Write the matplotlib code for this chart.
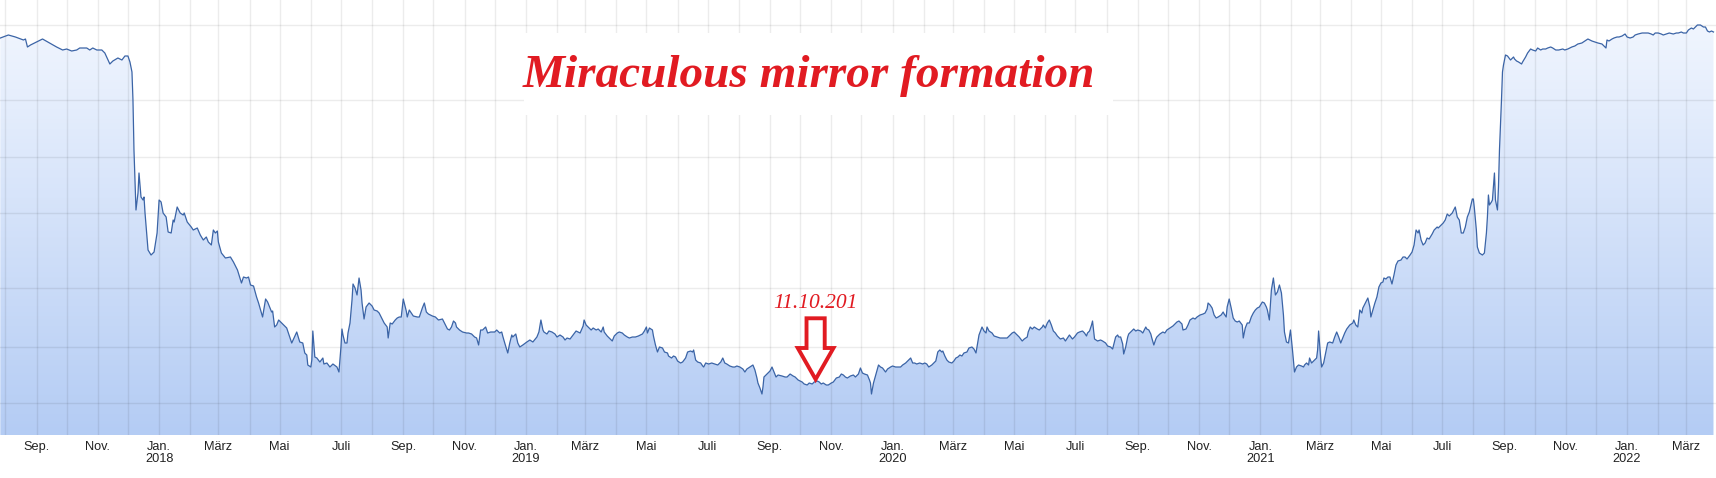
import numpy as np
import pandas as pd
import matplotlib
matplotlib.use("Agg")
import matplotlib.pyplot as plt
import matplotlib.dates as mdates
from matplotlib.colors import LinearSegmentedColormap
from matplotlib.patches import Polygon, Rectangle
from matplotlib.ticker import FuncFormatter

# Price history (days counted from 27.07.2017)
start_date = pd.Timestamp("2017-07-27")
days = [
    0, 8, 15, 23, 25, 27, 30, 34, 42, 49, 56, 62, 66, 71, 76, 79, 86, 89, 92, 96,
    101, 104, 109, 112, 117, 121, 124, 127, 129, 131, 132, 133, 135, 137, 138, 140, 142, 143, 144, 147,
    150, 153, 156, 158, 160, 162, 165, 167, 170, 172, 173, 176, 179, 182, 183, 186, 190, 192, 196, 199,
    202, 205, 207, 210, 212, 214, 216, 217, 220, 224, 229, 232, 236, 240, 242, 245, 247, 249, 252, 255,
    257, 261, 264, 266, 270, 271, 273, 275, 277, 281, 285, 288,
    290, 295, 298, 301, 303, 305, 306, 309, 310, 311, 313, 315, 318, 321, 322, 325, 328, 331, 335, 337,
    339, 340, 341, 343, 345, 346, 348, 350, 351, 353, 355, 357, 359, 360, 362, 364, 367, 370, 372, 375,
    377, 380, 382, 385, 386, 388, 390, 393, 395, 397, 399, 401, 402, 404, 405, 407, 409, 411, 415, 417,
    420, 422, 424, 426, 430, 433, 436, 440, 442, 445, 447, 449, 451, 453, 454, 457, 460, 464, 466, 469,
    472, 474, 476, 478, 480, 483, 485, 488, 492, 494, 497, 499, 500, 502, 505, 507, 509, 510, 513, 515,
    517, 520, 524, 527, 530, 534, 536, 538, 540, 541, 544, 546, 549, 552, 554, 557, 560, 562, 564, 567,
    570, 573, 575, 577,
    580, 581, 583, 585, 588, 590, 593, 595, 598, 600, 601, 604, 606, 609, 611, 614, 616, 619, 621, 624,
    626, 629, 632, 635, 639, 641, 643, 644, 646, 649, 650, 652, 654, 656, 659, 661, 664, 665, 668, 670,
    672, 674, 677, 679, 682, 684, 687, 689, 690, 692, 694, 697, 699, 700, 702, 705, 708, 711, 714, 717,
    719, 721, 723, 726, 729, 731, 733, 736, 739, 741, 743, 746, 749, 751, 753, 754, 756, 758, 759, 760,
    763, 766, 768, 770, 772, 774, 778, 781, 783, 786, 789, 791, 794, 798, 800, 803, 805, 808, 810, 813,
    815, 817, 819, 822, 824, 827, 829, 832, 835, 837, 839, 841, 843, 846, 849, 851, 854, 856, 858, 860,
    863, 865, 866,
    867, 869, 872, 874, 876, 878, 881, 883, 886, 888, 891, 893, 896, 898, 901, 903, 906, 908, 910, 912,
    915, 918, 920, 922, 924, 927, 929, 931, 933, 935, 937, 938, 940, 942, 944, 947, 949, 951, 953, 955,
    957, 959, 962, 964, 967, 969, 971, 972, 974, 977, 979, 981, 982, 984, 987, 989, 992, 995, 998, 1002,
    1004, 1007, 1009, 1012, 1014, 1017, 1019, 1022, 1023, 1025, 1027, 1029, 1032, 1034, 1037, 1038, 1040, 1042, 1044, 1046,
    1048, 1050, 1052, 1055, 1058, 1060, 1062, 1064, 1067, 1069, 1072, 1074, 1077, 1079, 1081, 1082, 1084, 1086, 1087, 1088,
    1089, 1092, 1095, 1097, 1100, 1102, 1105, 1107, 1108, 1110, 1112, 1113, 1115, 1117, 1118, 1120, 1122, 1123, 1126, 1128,
    1130, 1132, 1135, 1137, 1140, 1141, 1143, 1145, 1146, 1148, 1150, 1151, 1154,
    1157, 1159, 1161, 1164, 1167, 1169, 1171, 1173, 1176, 1177, 1180, 1182, 1184, 1187, 1189, 1191, 1194, 1197, 1199, 1201,
    1202, 1204, 1206, 1208, 1210, 1212, 1215, 1217, 1218, 1220, 1221, 1223, 1225, 1227, 1229, 1231, 1233, 1236, 1237, 1239,
    1241, 1243, 1245, 1247, 1249, 1251, 1253, 1256, 1258, 1260, 1261, 1263, 1265, 1267, 1269, 1271, 1273, 1275, 1277, 1278,
    1280, 1282, 1284, 1286, 1288, 1290, 1292, 1295, 1297, 1298, 1300, 1302, 1303, 1305, 1307, 1310, 1311, 1312, 1314, 1315,
    1317, 1319, 1321, 1323, 1326, 1328, 1330, 1332, 1334, 1336, 1338, 1340, 1343, 1346, 1347, 1349, 1351, 1353, 1355, 1356,
    1359, 1361, 1363, 1364, 1366, 1368, 1370, 1372, 1374, 1376, 1377, 1379, 1381, 1383, 1385, 1387, 1389, 1391, 1394, 1396,
    1398, 1400, 1403, 1405, 1407, 1409, 1411, 1412, 1414, 1416, 1418, 1420, 1422, 1425, 1427, 1430, 1431, 1433, 1436, 1438,
    1440, 1442, 1445, 1446, 1448, 1450, 1452, 1454, 1456, 1458, 1460, 1462, 1465, 1466, 1467, 1469, 1470, 1472, 1475, 1477,
    1479, 1480, 1481, 1482, 1484, 1485, 1487, 1488, 1490, 1491, 1492, 1494, 1495, 1496, 1498, 1500, 1503, 1506, 1507, 1509,
    1511, 1514, 1515, 1518, 1520, 1523, 1525, 1528, 1530, 1533, 1535, 1538, 1540, 1543, 1545, 1548, 1551, 1555, 1557, 1560,
    1564, 1567, 1570, 1574, 1577, 1580, 1584, 1587, 1590, 1594, 1596, 1598, 1599, 1601, 1604, 1606, 1609, 1611, 1614, 1617,
    1619, 1622, 1625, 1627, 1630, 1634, 1637, 1640, 1643, 1645, 1647, 1650, 1653, 1655, 1658, 1661, 1665, 1668, 1670, 1673,
    1675, 1678, 1680, 1683, 1685, 1687, 1689, 1692, 1695, 1697, 1699, 1701, 1703, 1705,
]
price = [
    397, 400, 398, 395, 396, 388, 390, 392, 396, 392, 388, 385, 386, 384, 385, 387, 387, 385, 387, 385,
    385, 382, 371, 374, 377, 375, 379, 379, 373, 363, 335, 285, 225, 242, 262, 238, 235, 238, 222, 185,
    180, 183, 202, 235, 233, 222, 218, 203, 202, 215, 213, 228, 222, 220, 222, 213, 208, 205, 207, 200,
    195, 198, 193, 190, 205, 202, 204, 193, 182, 177, 178, 173, 165, 152, 158, 157, 158, 150, 149, 138,
    132, 118, 136, 133, 123, 124, 108, 110, 115, 111, 107, 98,
    92, 103, 93, 92, 82, 80, 70, 68, 75, 104, 78, 77, 73, 77, 71, 72, 68, 71, 68, 63,
    88, 106, 100, 92, 92, 102, 112, 135, 151, 147, 140, 157, 145, 132, 116, 128, 132, 129, 125, 124,
    122, 116, 112, 108, 97, 112, 111, 115, 117, 118, 118, 136, 132, 124, 118, 125, 122, 119, 118, 118,
    127, 132, 123, 121, 119, 118, 115, 116, 112, 106, 105, 108, 114, 112, 108, 105, 103, 102, 102, 101,
    98, 97, 90, 105, 105, 108, 102, 103, 103, 105, 102, 103, 99, 92, 82, 92, 100, 98, 101, 92,
    88, 90, 93, 95, 93, 98, 103, 115, 105, 103, 101, 104, 103, 101, 98, 100, 98, 95, 97, 96,
    100, 104, 103, 102,
    109, 115, 110, 108, 105, 107, 105, 106, 103, 108, 103, 99, 97, 94, 99, 102, 103, 102, 100, 98,
    97, 98, 98, 99, 101, 104, 108, 102, 107, 105, 99, 90, 83, 88, 87, 83, 82, 79, 77, 79,
    78, 74, 72, 73, 77, 83, 84, 83, 85, 75, 73, 72, 69, 68, 72, 71, 72, 71, 70, 73,
    77, 72, 71, 69, 68, 68, 69, 68, 66, 63, 66, 68, 70, 65, 57, 52, 47, 41, 48, 58,
    61, 64, 68, 63, 58, 60, 59, 58, 58, 61, 59, 58, 55, 53, 51, 50, 52, 51, 53, 54,
    53, 51, 52, 50, 50, 52, 53, 57, 58, 61, 60, 58, 57, 59, 60, 58, 61, 67, 62, 61,
    60, 55, 52,
    41, 52, 63, 70, 68, 67, 63, 66, 68, 69, 68, 68, 68, 70, 72, 74, 77, 72, 72, 71,
    72, 71, 72, 71, 68, 70, 72, 74, 83, 85, 83, 84, 79, 75, 73, 72, 74, 77, 78, 80,
    79, 82, 83, 87, 88, 86, 82, 88, 100, 108, 104, 102, 108, 104, 102, 99, 98, 97, 97, 97,
    99, 102, 103, 100, 98, 94, 96, 98, 103, 108, 106, 108, 106, 105, 108, 110, 107, 112, 115, 110,
    104, 102, 99, 96, 97, 94, 97, 100, 96, 98, 102, 103, 104, 102, 99, 102, 104, 110, 114, 105,
    96, 94, 95, 94, 92, 89, 88, 86, 90, 98, 100, 98, 98, 91, 81, 88, 98, 101, 104, 106,
    104, 105, 104, 102, 108, 106, 105, 101, 97, 90, 96, 98, 101,
    103, 102, 105, 107, 109, 111, 113, 114, 111, 105, 106, 110, 115, 117, 116, 118, 120, 121, 122, 126,
    132, 130, 127, 120, 117, 118, 120, 123, 121, 118, 128, 136, 127, 117, 114, 113, 114, 110, 97, 107,
    112, 112, 118, 122, 125, 127, 128, 133, 132, 128, 125, 115, 145, 157, 140, 143, 150, 142, 120, 103,
    93, 92, 105, 85, 63, 68, 70, 69, 68, 70, 72, 70, 77, 72, 74, 77, 85, 104, 78, 68,
    72, 82, 92, 93, 92, 98, 103, 98, 92, 97, 102, 106, 110, 112, 115, 110, 108, 125, 122, 127,
    133, 137, 128, 118, 125, 132, 138, 148, 152, 153, 157, 156, 158, 158, 151, 160, 170, 174, 175, 178,
    178, 176, 180, 183, 190, 205, 202, 205, 195, 190, 192, 197, 196, 201, 205, 208, 207, 209, 212, 215,
    221, 219, 222, 224, 228, 218, 215, 202, 202, 208, 218, 223, 236, 236, 227, 205, 188, 182, 180, 182,
    202, 218, 240, 230, 233, 235, 262, 235, 225, 248, 285, 335, 363, 370, 380, 379, 375, 378, 376, 374,
    373, 371, 373, 378, 382, 386, 385, 384, 387, 385, 386, 386, 387, 388, 387, 385, 385, 386, 385, 386,
    388, 389, 391, 392, 394, 396, 394, 393, 392, 391, 389, 387, 395, 394, 396, 397, 398, 398, 399, 401,
    398, 397, 398, 400, 401, 402, 402, 402, 401, 400, 402, 402, 401, 400, 401, 402, 401, 402, 402, 403,
    402, 402, 405, 407, 406, 408, 410, 410, 408, 408, 404, 403, 404, 403,
]
assert len(days) == len(price)
dates = start_date + pd.to_timedelta(days, unit="D")

# Axis range and levels
x_start = pd.Timestamp("2017-07-26 16:00")
x_end = pd.Timestamp("2022-03-30 12:00")
y_top = 435
grid_levels = [32, 88, 147, 222, 278, 335, 410]
month_names = {1: "Jan.", 3: "März", 5: "Mai", 7: "Juli", 9: "Sep.", 11: "Nov."}

title = "Miraculous mirror formation"
marker_label = "11.10.201"

red = "#e11b22"
line_blue = "#3b64a6"

fig = plt.figure(figsize=(17.16, 4.78), dpi=100)
ax = fig.add_axes([0, 43 / 478, 1, 435 / 478])

ax.plot(dates, price, color=line_blue, lw=0.9, zorder=3)

# gradient fill under the line
xn = mdates.date2num(dates)
x0, x1 = mdates.date2num(x_start), mdates.date2num(x_end)
cmap = LinearSegmentedColormap.from_list("fill", ["#b4ccf4", "#f4f8ff"])
grad = np.linspace(0, 1, 256).reshape(-1, 1)
img = ax.imshow(grad, cmap=cmap, aspect="auto", origin="lower",
                extent=[x0, x1, 0, y_top], zorder=1, interpolation="bilinear")
clip = Polygon(np.column_stack([np.r_[xn[0], xn, xn[-1]], np.r_[0, price, 0]]),
               closed=True, facecolor="none", edgecolor="none", transform=ax.transData)
ax.add_patch(clip)
img.set_clip_path(clip)

ax.set_xlim(x_start, x_end)
ax.set_ylim(0, y_top)

# grid: one line per month, labels every second month
ax.xaxis.set_major_locator(mdates.MonthLocator())


def month_label(x, pos):
    d = mdates.num2date(x)
    if d.month not in month_names:
        return ""
    if d.month == 1:
        return f"{month_names[1]}\n{d.year}"
    return month_names[d.month]


ax.xaxis.set_major_formatter(FuncFormatter(month_label))
ax.set_yticks(grid_levels)
ax.set_yticklabels([])
ax.set_axisbelow(False)
ax.grid(True, color="black", alpha=0.075, lw=1.0)
ax.tick_params(axis="both", length=0)
ax.tick_params(axis="x", pad=4, labelsize=9.2, labelcolor="#222222")
for lab in ax.get_xticklabels():
    lab.set_fontfamily("Liberation Sans")
    lab.set_linespacing(1.0)
for s in ax.spines.values():
    s.set_visible(False)

# title on a white box
ax.add_patch(Rectangle((0.3054, 0.7356), 0.3432, 0.1885, transform=ax.transAxes,
                       facecolor="white", edgecolor="none", zorder=5))
ax.text(0.4711, 0.80, title, transform=ax.transAxes, ha="center", va="baseline",
        fontsize=34, family="Liberation Serif", style="italic", weight="bold",
        color=red, zorder=6)

# date marker with hollow arrow
ax.text(0.4750, 0.292, marker_label, transform=ax.transAxes, ha="center", va="baseline",
        fontsize=15.5, family="Liberation Serif", style="italic", color=red, zorder=6)
cx, tip_y, top_y, head_y = 0.4753, 0.128, 0.2683, 0.200
sw, hw = 0.0053, 0.0104
arrow = Polygon([(cx - sw, top_y), (cx + sw, top_y), (cx + sw, head_y), (cx + hw, head_y),
                 (cx, tip_y), (cx - hw, head_y), (cx - sw, head_y)],
                closed=True, transform=ax.transAxes, facecolor="none",
                edgecolor=red, lw=2.8, joinstyle="miter", zorder=6)
ax.add_patch(arrow)

fig.savefig("out.png", dpi=100, facecolor="white")
